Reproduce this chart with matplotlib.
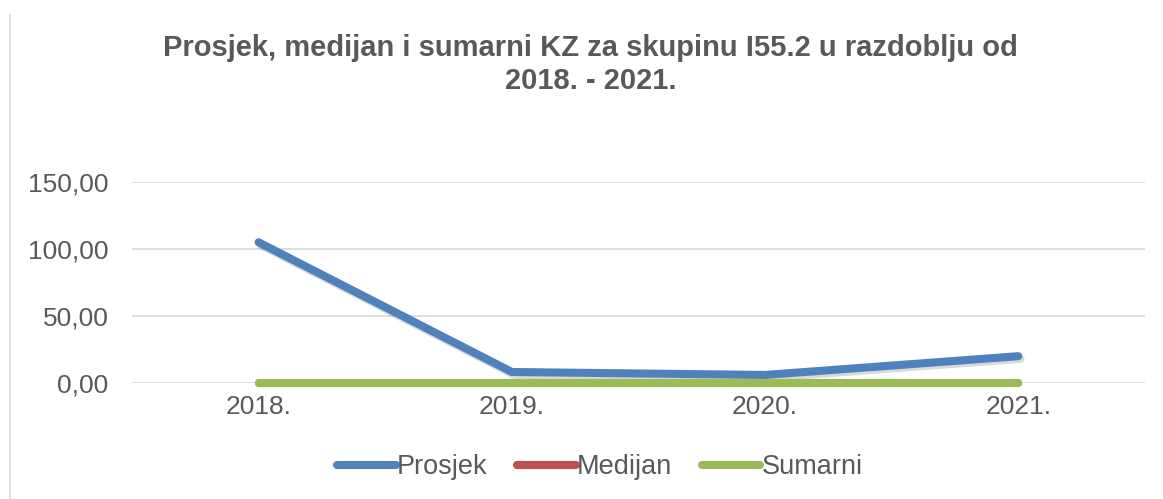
import matplotlib.pyplot as plt
import matplotlib.patheffects as pe
from matplotlib.lines import Line2D

plt.rcParams['font.family'] = ['Liberation Sans', 'DejaVu Sans']

years = ['2018.', '2019.', '2020.', '2021.']
prosjek = [105.0, 8.2, 6.0, 20.0]
medijan = [0.15, 0.15, 0.15, 0.15]
sumarni = [0.0, 0.0, 0.0, 0.0]

fig = plt.figure(figsize=(11.63, 4.99), dpi=100)
ax = fig.add_axes([0.1135, 0.2325, 0.871, 0.4028])

x = list(range(len(years)))
shadow = [pe.SimpleLineShadow(offset=(1.5, -2), alpha=0.15), pe.Normal()]
ax.plot(x, prosjek, color='#4f81bd', lw=5.8, solid_capstyle='round',
        solid_joinstyle='round', path_effects=shadow, zorder=3, clip_on=False)
ax.plot(x, medijan, color='#c0504d', lw=5.8, solid_capstyle='round', zorder=4,
        clip_on=False)
ax.plot(x, sumarni, color='#9bbb59', lw=5.8, solid_capstyle='round', zorder=5,
        clip_on=False)

ax.set_xlim(-0.5, 3.5)
ax.set_ylim(0, 150)
ax.set_yticks([0, 50, 100, 150])
ax.set_yticklabels(['0,00', '50,00', '100,00', '150,00'])
ax.set_xticks(x)
ax.set_xticklabels(years)
ax.yaxis.grid(True, color='#d9d9d9', lw=1.2)
ax.set_axisbelow(True)
for s in ax.spines.values():
    s.set_visible(False)
ax.tick_params(length=0, labelsize=19, labelcolor='#595959')
ax.tick_params(axis='y', pad=17)
ax.tick_params(axis='x', pad=9)

fig.text(0.508, 0.871, 'Prosjek, medijan i sumarni KZ za skupinu I55.2 u razdoblju od\n2018. - 2021.',
         ha='center', va='center', fontsize=21, fontweight='bold', color='#595959',
         linespacing=1.2)

handles = [Line2D([], [], color=c, lw=5.8, solid_capstyle='round')
           for c in ['#4f81bd', '#c0504d', '#9bbb59']]
fig.legend(handles, ['Prosjek', 'Medijan', 'Sumarni'], loc='center',
           bbox_to_anchor=(0.516, 0.064), ncol=3, frameon=False, fontsize=19.5,
           handlelength=2.15, handletextpad=0.05, columnspacing=1.1,
           labelcolor='#595959')

# left border remnant of the chart frame
fig.add_artist(Line2D([10 / 1163, 10 / 1163], [0, 1 - 15 / 499],
                      color='#d9d9d9', lw=1.2))

fig.savefig('out.png', dpi=100)
